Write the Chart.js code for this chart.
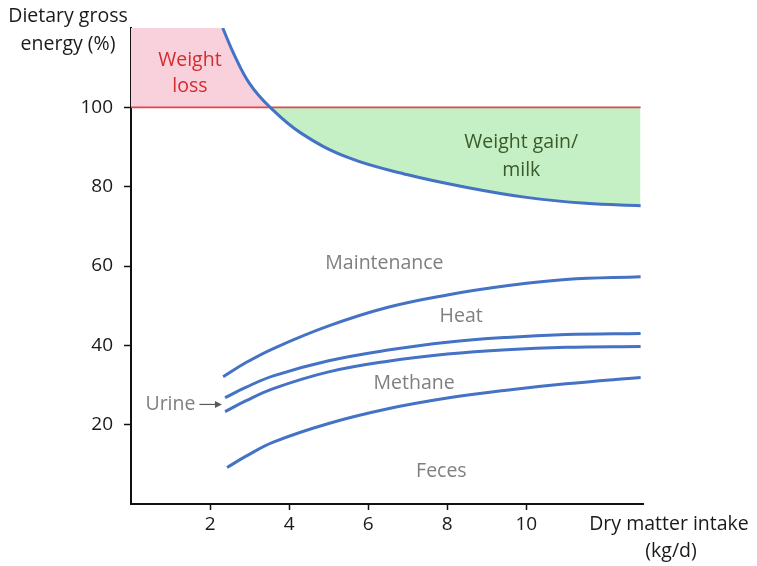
<!DOCTYPE html>
<html><head><meta charset="utf-8">
<script src="https://cdn.jsdelivr.net/npm/chart.js@4/dist/chart.umd.min.js"></script>
<style>html,body{margin:0;padding:0;background:#fff}#wrap{width:757px;height:566px;position:relative}canvas{display:block}</style>
</head><body><div id="wrap"><canvas id="c" width="757" height="566"></canvas></div>
<script>
// ---- data ----
const xTicks = [2, 4, 6, 8, 10];
const yTicks = [20, 40, 60, 80, 100];
const totalX = [2.32, 2.6, 3.0, 3.52, 4.3, 5.5, 7.0, 8.5, 10.0, 11.5, 12.89];
const totalY = [120, 113.5, 106, 100, 93.5, 87.3, 83, 79.8, 77.3, 75.8, 75.2];
const maintX = [2.33, 2.9, 3.6, 5.0, 6.5, 8.0, 9.5, 11.0, 12.89];
const maintY = [32.1, 35.6, 39.2, 44.9, 49.6, 52.7, 55.0, 56.6, 57.3];
const heatX  = [2.38, 2.9, 3.6, 5.0, 6.5, 8.0, 9.5, 11.0, 12.89];
const heatY  = [26.8, 29.4, 32.3, 36.1, 38.8, 40.8, 42.0, 42.7, 43.0];
const urineX = [2.38, 2.9, 3.6, 5.0, 6.5, 8.0, 9.5, 11.0, 12.89];
const urineY = [23.3, 26.0, 29.1, 33.3, 36.0, 37.8, 38.9, 39.5, 39.7];
const fecesX = [2.43, 2.9, 3.6, 5.0, 6.5, 8.0, 9.5, 11.0, 12.89];
const fecesY = [9.2, 12.0, 15.6, 20.3, 24.0, 26.7, 28.7, 30.3, 31.9];
const refX = [0, 12.89];
const refY = [100, 100];
const lossRectX = [0, 2.36];
const lossRectY = [120, 120];

const pts = (xs, ys) => xs.map((x, i) => ({x, y: ys[i]}));
const BLUE = '#4472C4';
const FONT = "'Open Sans', sans-serif";
const TS = 19.5;

const labelsPlugin = {
  id: 'labels',
  afterDraw(chart) {
    const {ctx, scales: {x, y}} = chart;
    ctx.save();
    ctx.textAlign = 'center';
    ctx.textBaseline = 'middle';
    const txt = (s, dx, dy, color) => {
      ctx.fillStyle = color;
      ctx.font = TS + 'px ' + FONT;
      ctx.fillText(s, x.getPixelForValue(dx), y.getPixelForValue(dy));
    };
    txt('Weight', 1.49, 111.7, '#d42b2b');
    txt('loss', 1.49, 105.2, '#d42b2b');
    txt('Weight gain/', 9.87, 91.1, '#3b5a2a');
    txt('milk', 9.87, 84.0, '#3b5a2a');
    txt('Maintenance', 6.41, 60.6, '#7f7f7f');
    txt('Heat', 8.35, 47.2, '#7f7f7f');
    txt('Methane', 7.16, 30.4, '#7f7f7f');
    txt('Feces', 7.85, 8.2, '#7f7f7f');
    // Urine with arrow
    ctx.textAlign = 'right';
    ctx.fillStyle = '#7f7f7f';
    ctx.font = TS + 'px ' + FONT;
    const uy = y.getPixelForValue(25.1);
    ctx.fillText('Urine', x.getPixelForValue(1.63), uy);
    const ax0 = x.getPixelForValue(1.73), ax1 = x.getPixelForValue(2.3);
    ctx.strokeStyle = '#595959'; ctx.lineWidth = 1.2;
    ctx.beginPath(); ctx.moveTo(ax0, uy); ctx.lineTo(ax1 - 5, uy); ctx.stroke();
    ctx.fillStyle = '#595959';
    ctx.beginPath(); ctx.moveTo(ax1, uy); ctx.lineTo(ax1 - 7, uy - 3.5); ctx.lineTo(ax1 - 7, uy + 3.5); ctx.closePath(); ctx.fill();
    // axis titles
    ctx.textAlign = 'center';
    ctx.fillStyle = '#1a1a1a';
    ctx.font = TS + 'px ' + FONT;
    ctx.fillText('Dietary gross', 68, 16);
    ctx.fillText('energy (%)', 68, 44);
    ctx.fillText('Dry matter intake', 669, 524);
    ctx.fillText('(kg/d)', 671, 551);
    ctx.restore();
  }
};

const lineDs = (data) => ({
  data, showLine: true, borderColor: BLUE, borderWidth: 3, pointRadius: 0,
  tension: 0.4, fill: false
});

new Chart(document.getElementById('c'), {
  type: 'scatter',
  data: {
    datasets: [
      Object.assign(lineDs(pts(totalX, totalY)), {
        fill: {target: {value: 100}, above: '#f9d1dd', below: '#c5f0c5'}
      }),
      lineDs(pts(maintX, maintY)),
      lineDs(pts(heatX, heatY)),
      lineDs(pts(urineX, urineY)),
      lineDs(pts(fecesX, fecesY)),
      {data: pts(refX, refY), showLine: true, borderColor: '#e0474c', borderWidth: 1.6, pointRadius: 0, fill: false},
      {data: pts(lossRectX, lossRectY), showLine: true, borderWidth: 0, borderColor: 'rgba(0,0,0,0)',
       pointRadius: 0, fill: {value: 100}, backgroundColor: '#f9d1dd'}
    ]
  },
  options: {
    responsive: false,
    animation: false,
    devicePixelRatio: 1,
    layout: {padding: {left: 0, right: 114, top: 28, bottom: 0}},
    plugins: {legend: {display: false}, tooltip: {enabled: false}, filler: {drawTime: 'beforeDatasetsDraw'}},
    scales: {
      x: {
        type: 'linear', min: 0, max: 12.95,
        afterBuildTicks: s => { s.ticks = xTicks.map(v => ({value: v})); },
        afterFit: s => { s.height = 62; },
        grid: {drawOnChartArea: false, drawTicks: true, tickLength: 6, tickColor: '#111', tickWidth: 1.5},
        border: {display: true, color: '#111', width: 2},
        ticks: {color: '#1a1a1a', font: {family: FONT, size: 19}, padding: 3, maxRotation: 0}
      },
      y: {
        type: 'linear', min: 0, max: 120,
        afterBuildTicks: s => { s.ticks = yTicks.map(v => ({value: v})); },
        afterFit: s => { s.width = 131; },
        grid: {drawOnChartArea: false, drawTicks: true, tickLength: 7, tickColor: '#111', tickWidth: 1.5},
        border: {display: true, color: '#111', width: 2},
        ticks: {color: '#1a1a1a', font: {family: FONT, size: 19}, padding: 11}
      }
    }
  },
  plugins: [labelsPlugin]
});
</script>
</body></html>
